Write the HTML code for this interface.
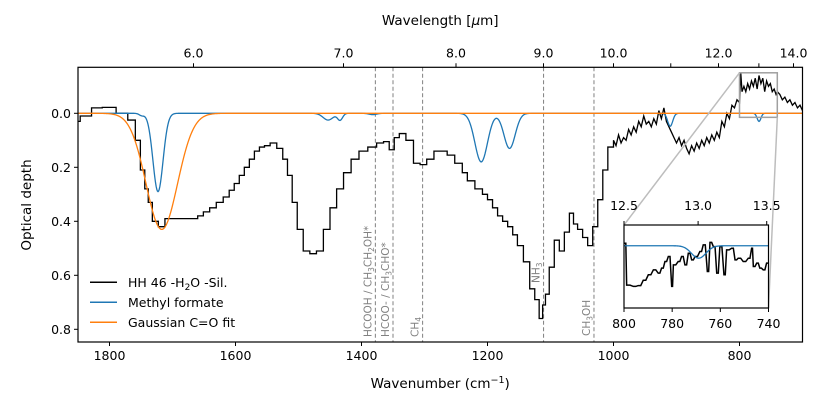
<!DOCTYPE html>
<html><head><meta charset="utf-8"><style>
html,body{margin:0;padding:0;background:#fff;}
svg{display:block;font-family:"DejaVu Sans","Liberation Sans",sans-serif;}
</style></head><body>
<svg id="chart" width="830" height="415" viewBox="0 0 830 415" xmlns="http://www.w3.org/2000/svg">
<g id="main"></g>
<g id="inset"></g>
</svg>
<script>
const NS="http://www.w3.org/2000/svg";
// ---------- data ----------
const xTicks=[1800,1600,1400,1200,1000,800];
const yTicks=[0.0,0.2,0.4,0.6,0.8];
const topTicks=[6,7,8,9,10,11,12,13,14];
const topTickLabels=["6.0","7.0","8.0","9.0","10.0","","12.0","","14.0"];
const stepWn=[1850,1843,1834,1823,1800,1779,1763,1755,1747,1741,1736,1728,1717,1707,1690,1675,1664,1656,1646,1636,1625,1614,1606,1598,1590,1582,1574,1566,1558,1550,1540,1529,1521,1514,1506,1498,1487,1477,1466,1455,1445,1434,1423,1410,1398,1382,1370,1360,1352,1344,1336,1323,1312,1302,1291,1279,1268,1260,1244,1236,1228,1212,1204,1196,1188,1180,1172,1164,1156,1149,1137,1129,1121,1115,1110,1106,1098,1090,1082,1074,1066,1061,1053,1045,1037,1029,1021,1013,1005];
const stepTau=[0.03,0.01,0.01,-0.02,-0.022,0.0,0.025,0.1,0.21,0.28,0.33,0.40,0.42,0.39,0.39,0.39,0.39,0.38,0.365,0.35,0.33,0.31,0.285,0.26,0.23,0.2,0.17,0.14,0.125,0.12,0.11,0.13,0.17,0.23,0.33,0.43,0.51,0.52,0.51,0.43,0.35,0.28,0.22,0.17,0.14,0.125,0.11,0.105,0.135,0.09,0.075,0.1,0.185,0.19,0.17,0.14,0.14,0.155,0.185,0.22,0.25,0.28,0.3,0.32,0.35,0.38,0.4,0.42,0.45,0.49,0.55,0.65,0.69,0.76,0.71,0.67,0.57,0.47,0.51,0.44,0.37,0.41,0.43,0.46,0.49,0.42,0.32,0.21,0.125];
const noisyWn=[1000,996,992,988,984,980,976,972,968,964,960,956,952,948,944,940,936,932,928,924,920,916,912,908,904,900,896,892,888,884,880,876,872,868,864,860,856,852,848,844,840,836,832,828,824,820,816,812,808,804];
const noisyTau=[0.10,0.12,0.08,0.11,0.09,0.10,0.06,0.08,0.05,0.07,0.03,0.05,0.01,0.04,0.03,0.05,0.02,0.04,-0.01,0.02,-0.02,0.03,0.05,0.07,0.09,0.11,0.09,0.12,0.10,0.13,0.15,0.12,0.14,0.11,0.13,0.10,0.12,0.09,0.11,0.08,0.10,0.07,0.09,0.03,0.05,0.0,0.02,-0.03,-0.02,-0.05];
const boxWn=[800,798,796,793,790,787,784,781,778,775,772,769,766,763,760,757,754,751,748,745,742,740,736,732,728,724,720,716,712,708,704,700];
const boxTau=[-0.04,-0.15,-0.08,-0.10,-0.08,-0.11,-0.09,-0.12,-0.10,-0.13,-0.09,-0.14,-0.11,-0.13,-0.08,-0.12,-0.10,-0.11,-0.08,-0.09,-0.07,-0.08,-0.07,-0.05,-0.06,-0.04,-0.05,-0.03,-0.04,-0.02,-0.03,-0.01];
const insetWn=[799.6,798.9,796.1,794.1,792,789.9,787.8,785.8,784.4,783,781.6,780.2,779.5,777.5,776.1,774.7,773.3,771.9,770.5,768.5,767.1,765.4,764.3,762.9,761.5,760.2,758.5,757.4,755.3,753.9,752.6,750.5,748.4,747,746.3,744.9,743.6,742.2,740.8];
const insetTau=[0.006,-0.095,-0.098,-0.096,-0.083,-0.07,-0.058,-0.066,-0.054,-0.038,-0.026,-0.098,-0.046,-0.038,-0.026,-0.046,-0.018,-0.034,-0.026,-0.014,0.002,-0.062,0.008,-0.002,-0.066,-0.002,-0.07,-0.01,-0.006,-0.034,-0.03,-0.038,-0.03,-0.006,-0.05,-0.042,-0.054,-0.058,-0.042];
const blueCenters=[1749,1723,1453,1434,1382,1210,1165,910,769];
const blueDepths=[0.008,0.29,0.025,0.025,0.005,0.18,0.13,0.048,0.03];
const blueSigmas=[4,8,8,4,6,10,9,4,3];
const gaussCenter=[1717];
const gaussDepth=[0.43];
const gaussSigma=[25];
const markerWn=[1378,1350,1303,1111,1031];
const markerLabels=[["HCOOH / CH","3","CH","2","OH*"],["HCOO- / CH","3","CHO*"],["CH","4"],["NH","3"],["CH","3","OH"]];
const insetXTicks=[800,780,760,740];
const insetTopTicks=[12.5,13.0,13.5];
// ---------- layout ----------
const L=78,R=802.5,T=67.3,B=342;
const X=w=>L+(1850-w)*(R-L)/(1850-700);
const Y=t=>113.3+t*270;
const IL=624,IR=768.5,IT=225,IB=308;
const IX=w=>IL+(800-w)*(IR-IL)/60;
const IY=t=>IT+(0.05-t)*(IB-IT)/0.2;
const main=document.getElementById('main');
const inset=document.getElementById('inset');
function el(tag,attrs,parent,text){const e=document.createElementNS(NS,tag);for(const k in attrs)e.setAttribute(k,attrs[k]);if(text!==undefined)e.textContent=text;parent.appendChild(e);return e;}
function blueAt(w){let s=0;for(let i=0;i<blueCenters.length;i++){s+=blueDepths[i]*Math.exp(-0.5*Math.pow((w-blueCenters[i])/blueSigmas[i],2));}return s;}
function gaussAt(w){return gaussDepth[0]*Math.exp(-0.5*Math.pow((w-gaussCenter[0])/gaussSigma[0],2));}
const defs=el('defs',{},main);
const cp=el('clipPath',{id:'mc'},defs);el('rect',{x:L,y:T,width:R-L,height:B-T},cp);
const cp2=el('clipPath',{id:'ic'},defs);el('rect',{x:IL,y:IT,width:IR-IL,height:IB-IT},cp2);
markerWn.forEach((w,i)=>{
 const ln=el('line',{x1:X(w),x2:X(w),y1:T,y2:B,stroke:'#808080','stroke-width':1,'stroke-dasharray':'4,2.5'},main);
 
 
});
const labelPos=[[X(1378)-4,337],[X(1350)-4,337],[X(1303)-4,337],[X(1111)-4,283],[X(1031)-4,336]];
markerLabels.forEach((parts,i)=>{
 const t=el('text',{transform:`translate(${labelPos[i][0]},${labelPos[i][1]}) rotate(-90)`,'font-size':'10.5',fill:'#808080'},main);
 
 
 parts.forEach((p,j)=>{const s=el('tspan',{},t,p);if(j%2===1){s.setAttribute('font-size','7.5');s.setAttribute('dy','2.5');}else if(j>0){s.setAttribute('dy','-2.5');}});
});
let bp='',gp='';
for(let w=1850;w>=700;w-=1){bp+=(w===1850?'M':'L')+X(w).toFixed(2)+','+Y(blueAt(w)).toFixed(2);gp+=(w===1850?'M':'L')+X(w).toFixed(2)+','+Y(gaussAt(w)).toFixed(2);}
let kp='';
for(let i=0;i<stepWn.length;i++){
 const x=X(stepWn[i]),y=Y(stepTau[i]);
 const xl=i===0?x:(X(stepWn[i-1])+x)/2;
 const xr=i===stepWn.length-1?X(noisyWn[0]):(X(stepWn[i+1])+x)/2;
 kp+=(i===0?'M':'L')+xl.toFixed(2)+','+y.toFixed(2)+'L'+xr.toFixed(2)+','+y.toFixed(2);
}
const allW=noisyWn.concat(boxWn),allT=noisyTau.concat(boxTau);
for(let i=0;i<allW.length;i++)kp+='L'+X(allW[i]).toFixed(2)+','+Y(allT[i]).toFixed(2);
const blk=el('path',{d:kp,fill:'none',stroke:'#000','stroke-width':1.3,'clip-path':'url(#mc)'},main);


const blu=el('path',{d:bp,fill:'none',stroke:'#1f77b4','stroke-width':1.3,'clip-path':'url(#mc)'},main);


const org=el('path',{d:gp,fill:'none',stroke:'#ff7f0e','stroke-width':1.3,'clip-path':'url(#mc)'},main);


const bx1=X(800),bx2=X(740),by1=Y(-0.15),by2=Y(0.015);
const zb=el('rect',{x:bx1,y:by1,width:bx2-bx1,height:by2-by1,fill:'none',stroke:'#a0a0a0','stroke-width':1.5},main);


const c1=el('line',{x1:bx1,y1:by1,x2:IL,y2:IT,stroke:'#bdbdbd','stroke-width':1.5},main);


const c2=el('line',{x1:bx2,y1:by2,x2:IR,y2:IB,stroke:'#bdbdbd','stroke-width':1.5},main);


const fr=el('rect',{x:L,y:T,width:R-L,height:B-T,fill:'none',stroke:'#000','stroke-width':1.2},main);


xTicks.forEach(v=>{
 el('line',{x1:X(v),x2:X(v),y1:B,y2:B+4,stroke:'#000','stroke-width':1},main);
 const t=el('text',{x:X(v),y:B+18,'font-size':'12.5','text-anchor':'middle'},main,String(v));
 
 
});
yTicks.forEach(v=>{
 el('line',{x1:L-4,x2:L,y1:Y(v),y2:Y(v),stroke:'#000','stroke-width':1},main);
 const t=el('text',{x:L-7,y:Y(v)+4.5,'font-size':'12.5','text-anchor':'end'},main,v.toFixed(1));
 
 
});
topTicks.forEach((v,i)=>{
 const x=X(10000/v);
 el('line',{x1:x,x2:x,y1:T-4,y2:T,stroke:'#000','stroke-width':1},main);
 if(topTickLabels[i]){const t=el('text',{x:x,y:T-10,'font-size':'12.5','text-anchor':'middle'},main,topTickLabels[i]);
 
 }
});
const xt=el('text',{x:(L+R)/2,y:388,'font-size':'13.5','text-anchor':'middle'},main);


el('tspan',{},xt,'Wavenumber (cm');el('tspan',{dy:-5,'font-size':'9.5'},xt,'−1');el('tspan',{dy:5},xt,')');
const tt=el('text',{x:(L+R)/2,y:25,'font-size':'13.5','text-anchor':'middle'},main);


el('tspan',{},tt,'Wavelength [');el('tspan',{'font-style':'italic'},tt,'μ');el('tspan',{},tt,'m]');
const yt=el('text',{transform:'translate(31,205) rotate(-90)','font-size':'13.5','text-anchor':'middle'},main,'Optical depth');


const legY=[282.3,302.3,322.3],legC=['#000','#1f77b4','#ff7f0e'];
const legNames=['legend-hh46','legend-methyl-formate','legend-gaussian-fit'];
const legG=el('g',{},main);


legY.forEach((y,i)=>{
 const g=el('g',{},legG);
 
 
 el('line',{x1:90,x2:117,y1:y,y2:y,stroke:legC[i],'stroke-width':1.5},g);
 const t=el('text',{x:128,y:y+4.5,'font-size':'12.5'},g);
 if(i===0){el('tspan',{},t,'HH 46 -H');el('tspan',{'font-size':'9','dy':3},t,'2');el('tspan',{dy:-3},t,'O -Sil.');}
 else t.textContent=i===1?'Methyl formate':'Gaussian C=O fit';
});
// ---------- inset ----------
el('rect',{x:IL,y:IT,width:IR-IL,height:IB-IT,fill:'#fff'},inset);
let ib='';for(let w=800;w>=740;w-=0.25){ib+=(w===800?'M':'L')+IX(w).toFixed(2)+','+IY(-blueAt(w)).toFixed(2);}
let ik='M'+IX(800).toFixed(2)+','+IY(insetTau[0]).toFixed(2);
for(let i=0;i<insetWn.length;i++){const x=IX(insetWn[i]),y=IY(insetTau[i]);const xr=i===insetWn.length-1?IX(740):(IX(insetWn[i+1])+x)/2;ik+='L'+x.toFixed(2)+','+y.toFixed(2)+'L'+xr.toFixed(2)+','+y.toFixed(2);}
const ikp=el('path',{d:ik,fill:'none',stroke:'#000','stroke-width':1.5,'clip-path':'url(#ic)'},inset);


const ibp=el('path',{d:ib,fill:'none',stroke:'#1f77b4','stroke-width':1.3,'clip-path':'url(#ic)'},inset);


const ifr=el('rect',{x:IL,y:IT,width:IR-IL,height:IB-IT,fill:'none',stroke:'#000','stroke-width':1.2},inset);


insetXTicks.forEach(v=>{
 el('line',{x1:IX(v),x2:IX(v),y1:IB,y2:IB+4,stroke:'#000','stroke-width':1},inset);
 const t=el('text',{x:IX(v),y:IB+20,'font-size':'12.5','text-anchor':'middle'},inset,String(v));
 
 
});
insetTopTicks.forEach(v=>{
 const x=IX(10000/v);
 el('line',{x1:x,x2:x,y1:IT-4,y2:IT,stroke:'#000','stroke-width':1},inset);
 const t=el('text',{x:x,y:IT-15,'font-size':'12.5','text-anchor':'middle'},inset,v.toFixed(1));
 
 
});
</script>
</body></html>
